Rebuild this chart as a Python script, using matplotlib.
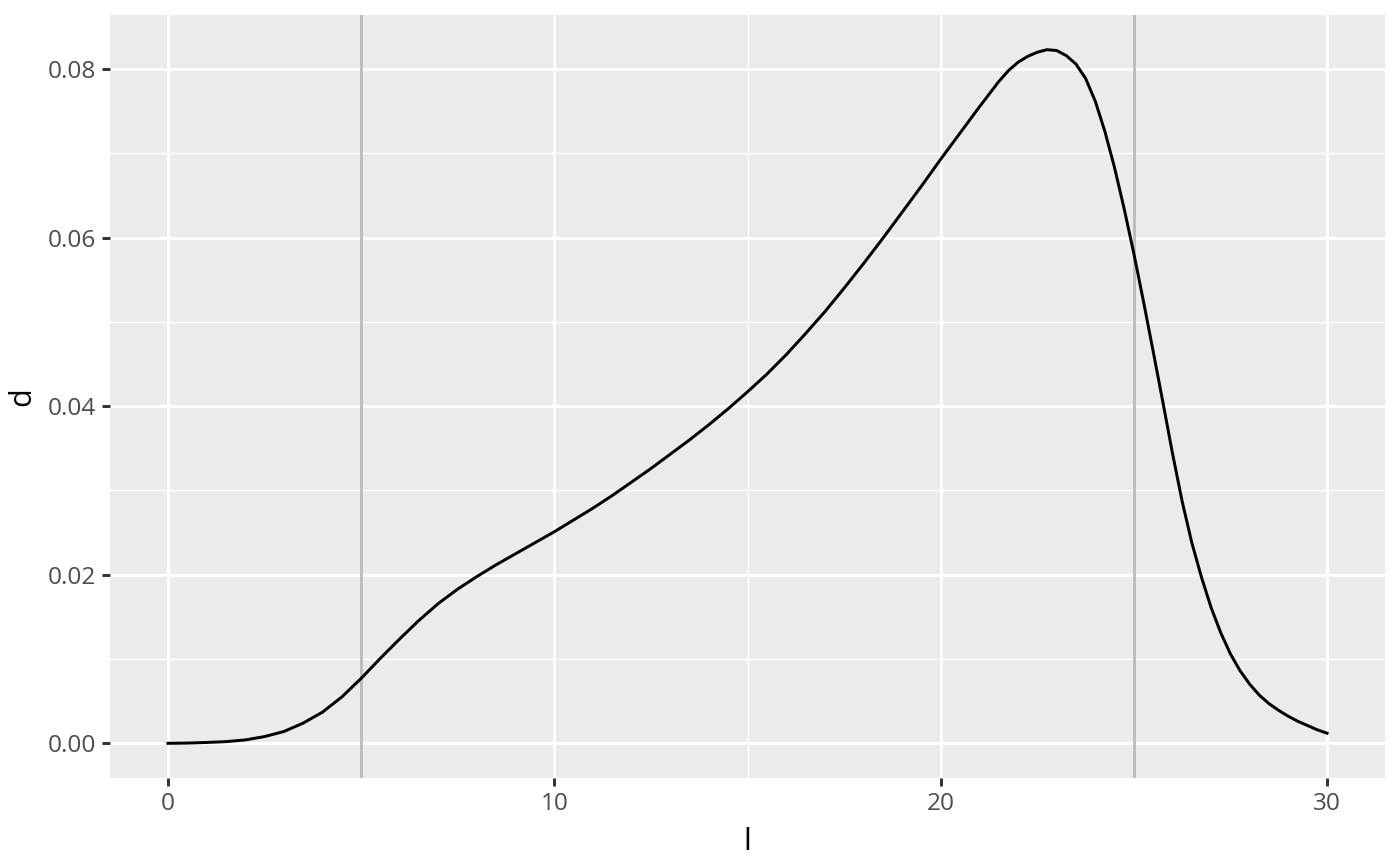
import matplotlib
matplotlib.use("Agg")
import matplotlib.pyplot as plt
from matplotlib.ticker import FixedLocator, FuncFormatter

# Data
l_vals = [0.0, 0.5, 1.0, 1.5, 2.0, 2.5, 3.0, 3.5, 4.0, 4.5, 5.0, 5.5, 6.0, 6.5,
          7.0, 7.5, 8.0, 8.5, 9.0, 9.5, 10.0, 10.5, 11.0, 11.5, 12.0, 12.5,
          13.0, 13.5, 14.0, 14.5, 15.0, 15.5, 16.0, 16.5, 17.0, 17.5, 18.0,
          18.5, 19.0, 19.5, 20.0, 20.5, 21.0, 21.25, 21.5, 21.75, 22.0, 22.25,
          22.5, 22.75, 23.0, 23.25, 23.5, 23.75, 24.0, 24.25, 24.5, 24.75,
          25.0, 25.25, 25.5, 25.75, 26.0, 26.25, 26.5, 26.75, 27.0, 27.25,
          27.5, 27.75, 28.0, 28.25, 28.5, 28.75, 29.0, 29.25, 29.5, 29.75, 30.0]
d_vals = [0.0, 0.00003, 0.0001, 0.0002, 0.0004, 0.0008, 0.0014, 0.0024, 0.0037,
          0.0055, 0.0077, 0.0101, 0.0124, 0.0146, 0.0166, 0.0183, 0.0198,
          0.0212, 0.0225, 0.0238, 0.0251, 0.0265, 0.0279, 0.0294, 0.0310,
          0.0326, 0.0343, 0.0360, 0.0378, 0.0397, 0.0417, 0.0438, 0.0461,
          0.0486, 0.0512, 0.0540, 0.0569, 0.0599, 0.0630, 0.0661, 0.0693,
          0.0724, 0.0755, 0.0770, 0.0785, 0.0798, 0.0808, 0.0815, 0.0820,
          0.0823, 0.0822, 0.0816, 0.0806, 0.0789, 0.0762, 0.0726, 0.0683,
          0.0634, 0.0581, 0.0524, 0.0465, 0.0405, 0.0344, 0.0287, 0.0238,
          0.0197, 0.0161, 0.0131, 0.0106, 0.0086, 0.0070, 0.0057, 0.0047,
          0.0039, 0.0032, 0.0026, 0.0021, 0.0016, 0.0012]
vlines = [5, 25]
x_ticks = [0, 10, 20, 30]
y_ticks = [0.00, 0.02, 0.04, 0.06, 0.08]
x_minor = [5, 15, 25]
y_minor = [0.01, 0.03, 0.05, 0.07]

plt.rcParams['font.family'] = ['Open Sans', 'DejaVu Sans']

fig = plt.figure(figsize=(7, 4.325), dpi=200)
ax = fig.add_axes([110/1400, 1 - 778/865, (1385-110)/1400, (778-15)/865])
ax.set_facecolor('#EBEBEB')
for s in ax.spines.values():
    s.set_visible(False)

xr = max(l_vals) - min(l_vals)
yr = max(d_vals) - min(d_vals)
ax.set_xlim(min(l_vals) - 0.05*xr, max(l_vals) + 0.05*xr)
ax.set_ylim(min(d_vals) - 0.05*yr, max(d_vals) + 0.05*yr)

ax.xaxis.set_major_locator(FixedLocator(x_ticks))
ax.yaxis.set_major_locator(FixedLocator(y_ticks))
ax.xaxis.set_minor_locator(FixedLocator(x_minor))
ax.yaxis.set_minor_locator(FixedLocator(y_minor))
ax.yaxis.set_major_formatter(FuncFormatter(lambda v, p: f"{v:.2f}"))
ax.xaxis.set_major_formatter(FuncFormatter(lambda v, p: f"{v:g}"))

ax.grid(which='major', color='white', linewidth=1.07)
ax.grid(which='minor', color='white', linewidth=0.53)
ax.set_axisbelow(True)
ax.tick_params(which='major', length=2.75, width=1.07, color='#333333',
               labelcolor='#4D4D4D', labelsize=8.8, pad=2.2)
ax.tick_params(which='minor', length=0)

for v in vlines:
    ax.axvline(v, color='#BEBEBE', linewidth=1.07, zorder=2)
ax.plot(l_vals, d_vals, color='black', linewidth=1.07, zorder=3,
        solid_joinstyle='round')

ax.set_xlabel('l', fontsize=11, color='black', labelpad=4)
ax.set_ylabel('d', fontsize=11, color='black', labelpad=4)

fig.savefig('out.png', dpi=200)
